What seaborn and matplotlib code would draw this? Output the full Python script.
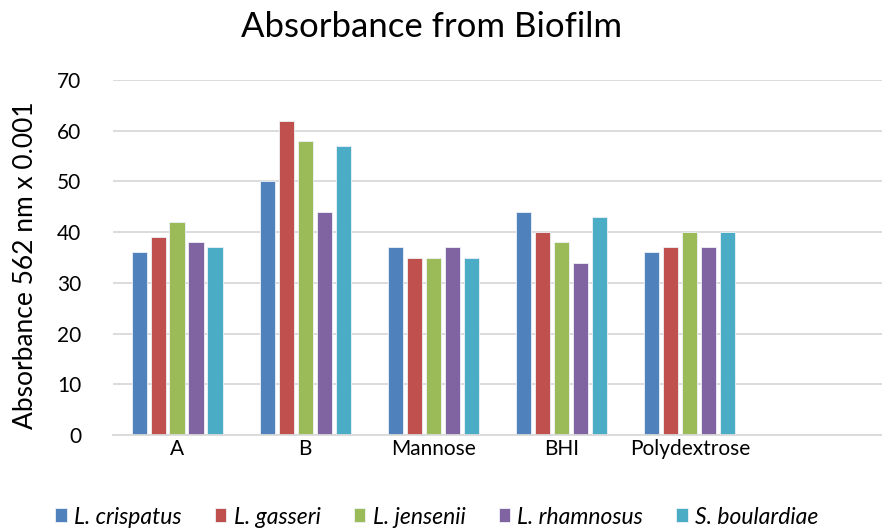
import matplotlib
matplotlib.use("Agg")
import matplotlib.pyplot as plt
import seaborn as sns
import pandas as pd

categories = ["A", "B", "Mannose", "BHI", "Polydextrose"]
series = ["L. crispatus", "L. gasseri", "L. jensenii", "L. rhamnosus", "S. boulardiae"]
l_crispatus = [36, 50, 37, 44, 36]
l_gasseri = [39, 62, 35, 40, 37]
l_jensenii = [42, 58, 35, 38, 40]
l_rhamnosus = [38, 44, 37, 34, 37]
s_boulardiae = [37, 57, 35, 43, 40]
colors = ["#4F81BD", "#C0504D", "#9BBB59", "#8064A2", "#4BACC6"]

values = [l_crispatus, l_gasseri, l_jensenii, l_rhamnosus, s_boulardiae]
rows = []
for s, vals in zip(series, values):
    for c, v in zip(categories, vals):
        rows.append({"category": c, "series": s, "value": v})
df = pd.DataFrame(rows)

sns.set_theme(style="white")
plt.rcParams["font.family"] = ["Lato", "DejaVu Sans"]
plt.rcParams["text.color"] = "black"
plt.rcParams["axes.labelcolor"] = "black"

fig = plt.figure(figsize=(8.82, 5.31), dpi=100)
ax = fig.add_axes([113 / 882, 1 - 435 / 531, 1 - 113 / 882, (435 - 80) / 531])

sns.barplot(data=df, x="category", y="value", hue="series", order=categories,
            hue_order=series, palette=colors, saturation=1, width=0.74, gap=0.2,
            edgecolor="#EEF2F8", linewidth=0.6, ax=ax, legend=True)

ax.set_xlim(-0.5, 5.5)
ax.set_ylim(0, 70)
ax.set_yticks(range(0, 71, 10))
ax.yaxis.grid(True, color="#D9D9D9", linewidth=1.3)
ax.set_axisbelow(True)
for sp in ["left", "right", "top"]:
    ax.spines[sp].set_visible(False)
ax.spines["bottom"].set_color("#D9D9D9")
ax.spines["bottom"].set_linewidth(1.3)
ax.tick_params(axis="both", length=0, labelsize=15, colors="#000000")
ax.tick_params(axis="y", pad=23)
ax.tick_params(axis="x", pad=3)
ax.set_xlabel("")
ax.set_ylabel("Absorbance 562 nm x 0.001", fontsize=19)
ax.yaxis.set_label_coords(-0.097, 0.479)

fig.text(432 / 882, 1 - 27 / 531, "Absorbance from Biofilm", fontsize=25,
         ha="center", va="center")

handles, labels = ax.get_legend_handles_labels()
ax.get_legend().remove()
leg = fig.legend(handles, labels, loc="center", bbox_to_anchor=(437 / 882, 1 - 517 / 531),
                 ncol=5, frameon=False, handlelength=0.5, handleheight=0.55,
                 handletextpad=0.32, columnspacing=1.45,
                 prop={"style": "italic", "size": 16.5})

fig.savefig("out.png", dpi=100)
